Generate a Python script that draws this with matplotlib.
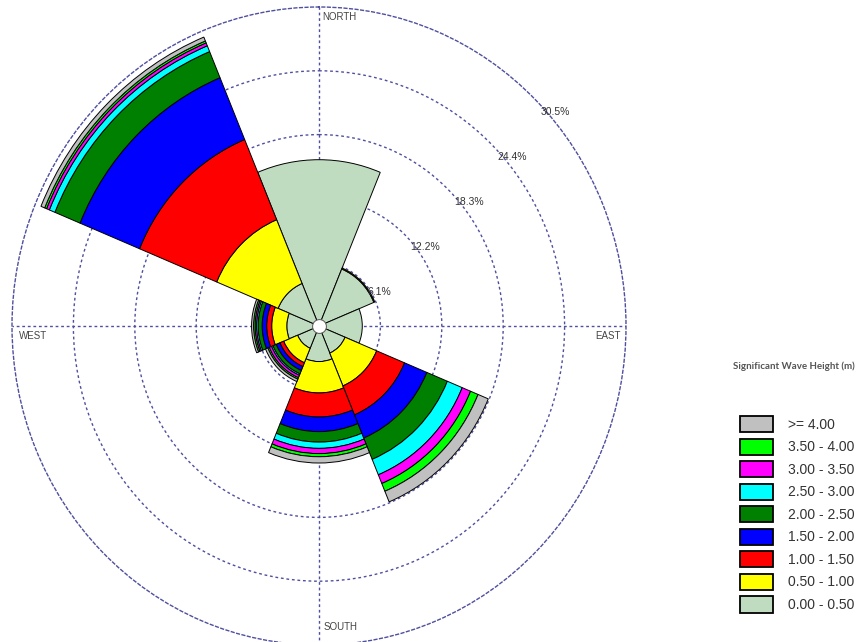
import numpy as np
import matplotlib
matplotlib.use('Agg')
import matplotlib.pyplot as plt

plt.rcParams['font.family'] = ['Liberation Sans', 'DejaVu Sans']

# wave direction sectors, degrees clockwise from north (N, NE, E, SE, S, SW, W, NW)
directions = [0, 45, 90, 135, 180, 225, 270, 315]

band_labels = ['0.00 - 0.50', '0.50 - 1.00', '1.00 - 1.50', '1.50 - 2.00',
               '2.00 - 2.50', '2.50 - 3.00', '3.00 - 3.50', '3.50 - 4.00', '>= 4.00']
band_colors = ['#C0DCC0', '#FFFF00', '#FF0000', '#0000FF', '#008000',
               '#00FFFF', '#FF00FF', '#00FF00', '#C0C0C0']

# occurrence (%) of each wave height band, by direction N..NW
h_000_050 = [15.9, 5.9, 4.3, 2.8, 3.4, 2.3, 3.2, 4.4]
h_050_100 = [0.0, 0.1, 0.0, 3.4, 3.0, 1.5, 1.5, 6.6]
h_100_150 = [0.0, 0.0, 0.0, 3.0, 2.3, 0.4, 0.5, 8.3]
h_150_200 = [0.0, 0.0, 0.0, 2.4, 1.4, 0.4, 0.45, 6.4]
h_200_250 = [0.0, 0.0, 0.0, 2.2, 1.0, 0.35, 0.4, 2.7]
h_250_300 = [0.0, 0.0, 0.0, 1.6, 0.6, 0.15, 0.15, 0.6]
h_300_350 = [0.0, 0.0, 0.0, 0.9, 0.5, 0.25, 0.15, 0.3]
h_350_400 = [0.0, 0.0, 0.0, 0.8, 0.3, 0.15, 0.15, 0.2]
h_400_up = [0.0, 0.0, 0.0, 1.1, 0.6, 0.25, 0.2, 0.4]

ring_values = [6.1, 12.2, 18.3, 24.4, 30.5]

bands = [h_000_050, h_050_100, h_100_150, h_150_200, h_200_250,
         h_250_300, h_300_350, h_350_400, h_400_up]

grid_color = '#4f4f9f'
dots = (0, (2, 2))

fig = plt.figure(figsize=(8.62, 6.42), dpi=100)
ax = fig.add_axes([12 / 862, -3 / 642, 614 / 862, 638 / 642], projection='polar')
ax.set_aspect('auto')
ax.set_theta_zero_location('N')
ax.set_theta_direction(-1)
ax.set_ylim(0, ring_values[-1])

theta = np.deg2rad(directions)
width = np.deg2rad(45)

# stacked sectors (no outline where a band is empty)
bottom = np.zeros(len(directions))
bars = []
for vals, col, lab in zip(bands, band_colors, band_labels):
    vals = np.array(vals)
    lw = np.where(vals > 0, 0.7, 0.0)
    b = ax.bar(theta, vals, width=width, bottom=bottom, color=col,
               edgecolor='black', linewidth=lw, label=lab, zorder=3)
    bars.append(b)
    bottom = bottom + vals

# centre hole
ax.plot(0, 0, 'o', ms=10, mfc='white', mec='#666666', mew=0.8, zorder=6)

# grid
ax.set_rgrids(ring_values[:-1])
ax.set_thetagrids([0, 90, 180, 270])
ax.set_xticklabels([])
ax.set_yticklabels([])
ax.grid(True, color=grid_color, linestyle=dots, linewidth=1.0)
ax.spines['polar'].set_linestyle(dots)
ax.spines['polar'].set_color(grid_color)
ax.spines['polar'].set_linewidth(1.0)
ax.set_axisbelow(True)

# ring labels
for v in ring_values:
    ax.annotate(f'{v:.1f}%', xy=(np.pi / 4, v), xytext=(3.5, -8.3),
                textcoords='offset points', ha='left', va='center',
                fontsize=7.5, color='#333333', zorder=7)

# compass labels
r_out = ring_values[-1]
ax.annotate('NORTH', xy=(0, r_out), xytext=(2.3, -7.5), textcoords='offset points',
            ha='left', va='center', fontsize=7, color='#444444')
ax.annotate('SOUTH', xy=(np.pi, r_out), xytext=(3, 13), textcoords='offset points',
            ha='left', va='center', fontsize=7, color='#444444')
ax.annotate('WEST', xy=(1.5 * np.pi, r_out), xytext=(5, -7.5), textcoords='offset points',
            ha='left', va='center', fontsize=7, color='#444444')
ax.annotate('EAST', xy=(0.5 * np.pi, r_out), xytext=(-4, -7.5), textcoords='offset points',
            ha='right', va='center', fontsize=7, color='#444444')

# legend
fig.text(733 / 862, 1 - 366 / 642, 'Significant Wave Height (m)', family='Lato',
         weight='bold', fontsize=7, color='#555555', ha='left', va='center')
handles = [b.patches[3] for b in bars][::-1]
leg = fig.legend(handles, band_labels[::-1], loc='upper left',
                 bbox_to_anchor=(740 / 862, 1 - 416 / 642), frameon=False,
                 fontsize=10, handlelength=2.4, handleheight=1.44,
                 handletextpad=1.05, labelspacing=0.44, borderpad=0,
                 borderaxespad=0)
for h in leg.legend_handles:
    h.set_linewidth(1.3)
for t in leg.get_texts():
    t.set_color('#333333')

fig.savefig('out.png', dpi=100)
